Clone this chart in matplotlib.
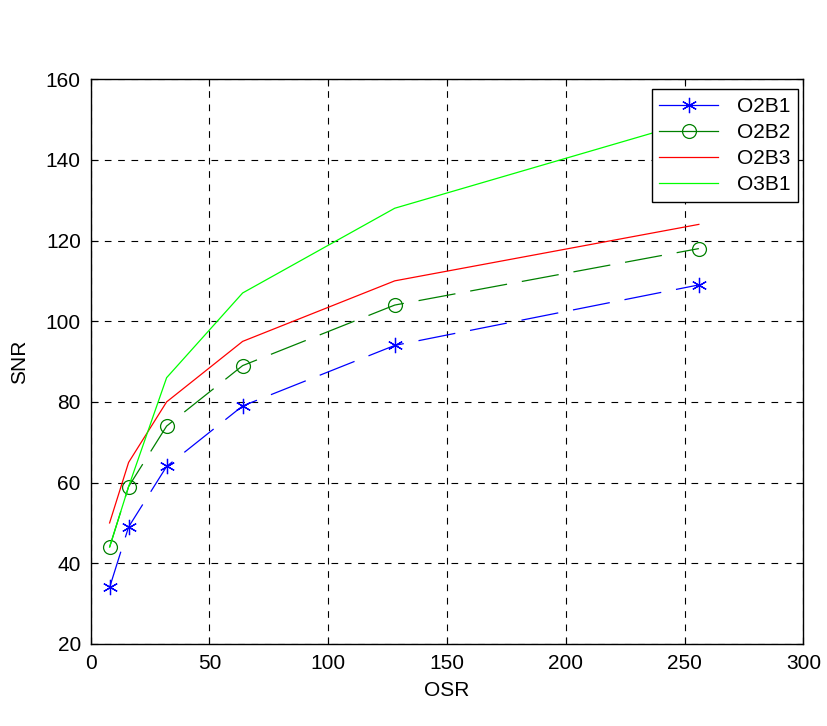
import matplotlib
matplotlib.use('Agg')
import matplotlib.pyplot as plt

osr = [8, 16, 32, 64, 128, 256]
o2b1 = [34, 49, 64, 79, 94, 109]
o2b2 = [44, 59, 74, 89, 104, 118]
o2b3 = [50, 65, 80, 95, 110, 124]
o3b1 = [44, 59, 86, 107, 128, 150]

plt.rcParams['font.family'] = ['Liberation Sans', 'DejaVu Sans']

fig = plt.figure(figsize=(8.28, 7.26), dpi=100)
ax = fig.add_axes([0.1094, 0.113, 0.8609, 0.778])

dash = (0, (30, 12))
ax.plot(osr, o2b1, color='blue', linestyle=dash, linewidth=0.9,
        marker=(6, 2, 0), markersize=11, markeredgewidth=0.9,
        label='O2B1')
ax.plot(osr, o2b2, color=(0, 0.5, 0), linestyle=dash, linewidth=0.9,
        marker='o', markersize=10, markeredgewidth=0.9, markerfacecolor='none',
        label='O2B2')
ax.plot(osr, o2b3, color='red', linewidth=0.9, label='O2B3')
ax.plot(osr, o3b1, color=(0, 1, 0), linewidth=0.9, label='O3B1')

ax.set_xlim(0, 300)
ax.set_ylim(20, 160)
ax.set_xticks(range(0, 301, 50))
ax.set_yticks(range(20, 161, 20))
ax.grid(True, color='black', linestyle=(0, (6, 6)), linewidth=0.8)
ax.tick_params(direction='in', top=True, right=True, labelsize=15,
               length=5, pad=7)
for s in ax.spines.values():
    s.set_linewidth(1.0)

ax.set_xlabel('OSR', fontsize=15, labelpad=6)
ax.set_ylabel('SNR', fontsize=15, labelpad=12)

# legend box sits close to the right edge, a bit lower than the top
leg = ax.legend(loc='upper right', bbox_to_anchor=(0.9924, 0.982),
                fontsize=15, fancybox=False, framealpha=1,
                edgecolor='black', borderaxespad=0, handlelength=2.8,
                handletextpad=0.9, labelspacing=0.33, borderpad=0.38)
leg.get_frame().set_linewidth(1.0)
for h in leg.get_lines():
    h.set_linestyle('-')

fig.savefig('out.png', dpi=100)
